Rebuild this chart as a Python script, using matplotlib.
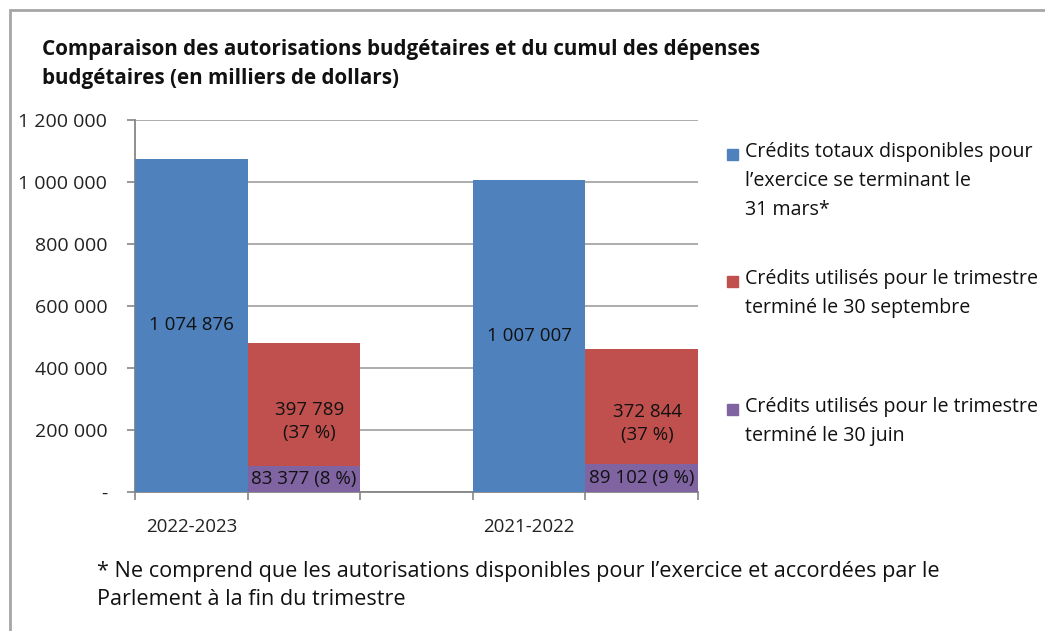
import numpy as np
import matplotlib.pyplot as plt
from matplotlib.patches import Rectangle

plt.rcParams['font.family'] = ['Open Sans', 'DejaVu Sans']

# data (milliers de dollars)
annees = ["2022-2023", "2021-2022"]
credits_totaux = [1074876, 1007007]
credits_sept = [397789, 372844]
credits_juin = [83377, 89102]
pct_sept = [37, 37]
pct_juin = [8, 9]

legende = ["Crédits totaux disponibles pour\nl’exercice se terminant le\n31 mars*",
           "Crédits utilisés pour le trimestre\nterminé le 30 septembre",
           "Crédits utilisés pour le trimestre\nterminé le 30 juin"]
couleurs = ["#4F81BD", "#C0504D", "#8064A2"]

yticks = [0, 200000, 400000, 600000, 800000, 1000000, 1200000]


def fmt(v):
    if v == 0:
        return "-"
    return f"{v:,}".replace(",", " ")


fig = plt.figure(figsize=(10.45, 6.31), dpi=100)
ax = fig.add_axes([135/1045, 1-492/631, 563/1045, 372/631])

x_bleu = np.array([0.5, 3.5])
x_rouge = x_bleu + 1

b1 = ax.bar(x_bleu, credits_totaux, width=1.0, color=couleurs[0], zorder=3)
b3 = ax.bar(x_rouge, credits_juin, width=1.0, color=couleurs[2], zorder=3)
b2 = ax.bar(x_rouge, credits_sept, width=1.0, bottom=credits_juin, color=couleurs[1], zorder=3)

fs = 13.5
for i in range(2):
    ax.annotate(fmt(credits_totaux[i]), (x_bleu[i], credits_totaux[i] / 2),
                ha="center", va="center", fontsize=fs, color="#111111", zorder=4)
    ax.annotate(f"{fmt(credits_sept[i])}\n({pct_sept[i]} %)",
                (x_rouge[i], credits_juin[i] + credits_sept[i] / 2),
                xytext=(4, -12), textcoords="offset points",
                ha="center", va="center", fontsize=fs, color="#111111",
                linespacing=1.35, zorder=4)
    ax.annotate(f"{fmt(credits_juin[i])} ({pct_juin[i]} %)",
                (x_rouge[i], credits_juin[i] / 2),
                ha="center", va="center", fontsize=fs, color="#111111", zorder=4)

ax.set_xlim(0, 5)
ax.set_ylim(0, 1200000)
ax.set_yticks(yticks)
ax.set_yticklabels([fmt(v) for v in yticks], fontsize=14, color="#222222")
ax.set_xticks([0, 1, 2, 3, 4, 5])
ax.set_xticklabels([])
ax.set_xticks(x_bleu, minor=True)
ax.set_xticklabels(annees, minor=True, fontsize=fs, color="#222222")
ax.tick_params(axis="x", which="minor", length=0, pad=19)
ax.tick_params(axis="x", which="major", length=6, color="#868686", width=1.2)
ax.tick_params(axis="y", length=6, color="#868686", width=1.2, pad=14)

ax.grid(axis="y", color="#A6A6A6", linewidth=1.3, zorder=0)
for s in ["top", "right"]:
    ax.spines[s].set_visible(False)
for s in ["left", "bottom"]:
    ax.spines[s].set_color("#868686")
    ax.spines[s].set_linewidth(1.3)

# titre
fig.text(42/1045, 1-64/631, "Comparaison des autorisations budgétaires et du cumul des dépenses\nbudgétaires (en milliers de dollars)",
         fontsize=14.9, fontweight="bold", color="#111111", ha="left", va="center", linespacing=1.53)

# légende
leg_y = [154, 281, 409]
for c, lab, y in zip(couleurs, legende, leg_y):
    fig.patches.append(Rectangle((727/1045, 1-(y+6)/631), 11/1045, 11/631,
                                 transform=fig.transFigure, color=c))
    fig.text(745/1045, 1-(y-12)/631, lab, fontsize=14.1, color="#111111",
             ha="left", va="top", linespacing=1.6)

# note
fig.text(97/1045, 1-561/631, "* Ne comprend que les autorisations disponibles pour l’exercice et accordées par le\nParlement à la fin du trimestre",
         fontsize=15.6, color="#111111", ha="left", va="top", linespacing=1.46)

# cadre
fig.patches.append(Rectangle((10/1045, -0.05), 1.1, 1-10/631+0.05, transform=fig.transFigure,
                             fill=False, edgecolor="#A6A6A6", linewidth=2))

fig.savefig("out.png", dpi=100)
